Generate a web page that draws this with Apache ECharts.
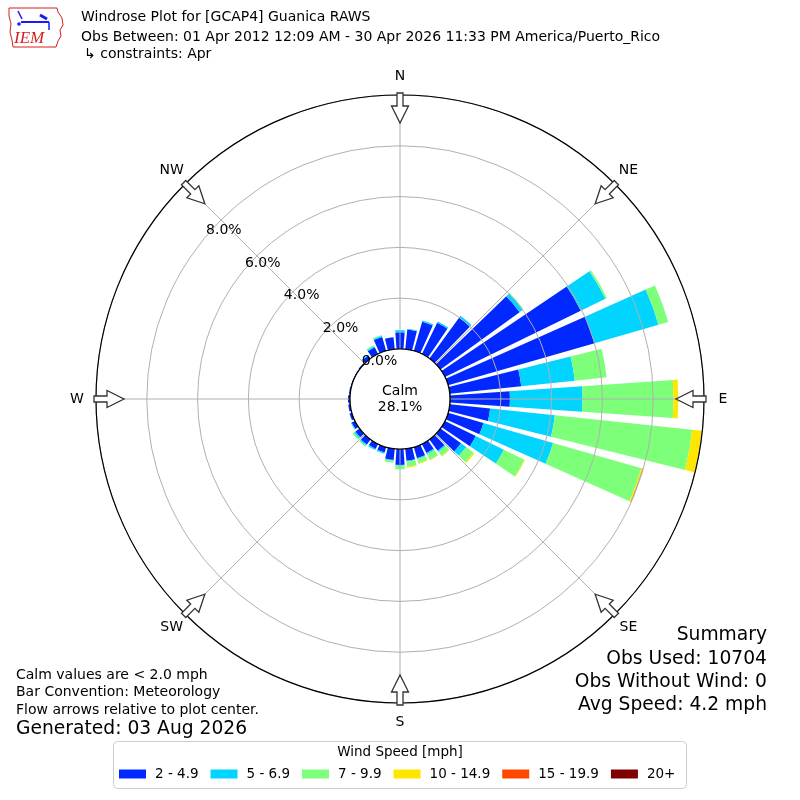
<!DOCTYPE html>
<html><head><meta charset="utf-8">
<script src="https://cdn.jsdelivr.net/npm/echarts@6/dist/echarts.min.js"></script>
<style>html,body{margin:0;padding:0;background:#fff}#c{width:800px;height:800px}</style>
</head><body><div id="c"></div>
<script>
// ---- data ----
const DIRECTIONS = ['0','10','20','30','40','50','60','70','80','90','100','110','120','130','140','150','160','170',
  '180','190','200','210','220','230','240','250','260','270','280','290','300','310','320','330','340','350'];
const SPEED_BINS = ['2 - 4.9','5 - 6.9','7 - 9.9','10 - 14.9','15 - 19.9','20+'];
// percent of observations per direction, per speed bin
const S_2_5   = [0.66,0.78,1.20,1.37,2.00,3.85,5.95,6.00,2.83,2.36,1.60,1.45,1.35,1.00,0.55,0.40,0.46,0.48,
                 0.63,0.45,0.22,0.22,0.25,0.20,0.15,0.10,0.08,0.08,0.05,0.03,0.03,0.05,0.15,0.30,0.57,0.48];
const S_5_7   = [0.08,0.03,0.05,0.06,0.08,0.17,1.08,2.62,2.12,2.86,2.56,2.85,1.23,0.25,0.06,0.05,0.03,0.03,
                 0.03,0.03,0.05,0.05,0.05,0.07,0.03,0,0,0,0,0,0,0,0.03,0.05,0.05,0];
const S_7_10  = [0,0,0,0,0,0.02,0.07,0.40,1.26,3.58,5.44,3.62,0.90,0.36,0.20,0.25,0.17,0.20,
                 0.14,0.08,0,0,0.05,0.07,0,0,0,0,0,0,0,0,0,0.04,0.03,0];
const S_10_15 = [0,0,0,0,0,0,0,0,0,0.19,0.38,0.05,0.03,0.05,0.02,0.02,0.03,0.04,
                 0,0,0,0,0,0,0,0,0,0,0,0,0,0,0,0,0,0];
const S_15_20 = [0,0,0,0,0,0,0,0,0,0,0,0.02,0,0,0,0,0,0,
                 0,0,0,0,0,0,0,0,0,0,0,0,0,0,0,0,0,0];
const S_20P   = [0,0,0,0,0,0,0,0,0,0,0,0,0,0,0,0,0,0,
                 0,0,0,0,0,0,0,0,0,0,0,0,0,0,0,0,0,0];
const SERIES_DATA = [S_2_5, S_5_7, S_7_10, S_10_15, S_15_20, S_20P];
const RING_TICKS = [0, 2, 4, 6, 8];
const COMPASS_NAMES = ['N','NE','E','SE','S','SW','W','NW'];
const CALM_PCT = '28.1%';

// ---- styles / layout ----
const COLORS = ['#0028ff','#00d4ff','#7dff7a','#ffe600','#ff4700','#800000'];
const FONT = 'DejaVu Sans';
const CX = 400, CY = 399, R0 = 50, R1 = 304, RMAX = 10;

function polarPx(val, deg) {
  const r = R0 + (R1 - R0) * val / RMAX;
  const a = deg * Math.PI / 180;
  return [CX + r * Math.sin(a), CY - r * Math.cos(a)];
}
function rawPx(r, deg, v) {
  const a = deg * Math.PI / 180;
  return [CX + r * Math.sin(a) + v * Math.cos(a), CY - r * Math.cos(a) + v * Math.sin(a)];
}

const chart = echarts.init(document.getElementById('c'), null, {renderer: 'canvas'});
const graphics = [];

// calm circle
graphics.push({type:'circle', shape:{cx:CX, cy:CY, r:R0}, style:{fill:'#fff', stroke:'#000', lineWidth:1.2}, z:10});
graphics.push({type:'text', x:CX, y:391, style:{text:'Calm', font:'14px "'+FONT+'"', fill:'#000', align:'center', verticalAlign:'middle'}, z:11});
graphics.push({type:'text', x:CX, y:407, style:{text:CALM_PCT, font:'14px "'+FONT+'"', fill:'#000', align:'center', verticalAlign:'middle'}, z:11});

// arrows + compass labels
COMPASS_NAMES.forEach((nm, i) => {
  const deg = i * 45;
  const pts = [[306,-3],[293,-3],[293,-8.5],[276,0],[293,8.5],[293,3],[306,3]].map(p => rawPx(p[0], deg, p[1]));
  graphics.push({type:'polygon', shape:{points:pts}, style:{fill:'#fff', stroke:'#333', lineWidth:1.3}, z:12});
  const lp = rawPx(323, deg, 0);
  graphics.push({type:'text', x:lp[0], y:lp[1], style:{text:nm, font:'14px "'+FONT+'"', fill:'#000', align:'center', verticalAlign:'middle'}, z:12});
});

// ring labels
RING_TICKS.forEach(v => {
  const p = polarPx(v, 310);
  graphics.push({type:'text', x:p[0], y:p[1]+1, style:{text:v.toFixed(1)+'%', font:'14px "'+FONT+'"', fill:'#000', align:'left', verticalAlign:'bottom'}, z:12});
});

// titles
function txt(x, y, s, size, align, extra) {
  graphics.push({type:'text', x:x, y:y, style:Object.assign({text:s, font:size+'px "'+FONT+'"', fill:'#000', align:align||'left', verticalAlign:'middle'}, extra||{}), z:12});
}
txt(81, 17, 'Windrose Plot for [GCAP4] Guanica RAWS', 14);
txt(81, 37, 'Obs Between: 01 Apr 2012 12:09 AM - 30 Apr 2026 11:33 PM America/Puerto_Rico', 14);
txt(84, 54, '\u21b3 constraints: Apr', 14);
txt(16, 675, 'Calm values are < 2.0 mph', 14);
txt(16, 692, 'Bar Convention: Meteorology', 14);
txt(16, 710, 'Flow arrows relative to plot center.', 14);
txt(16, 729, 'Generated: 03 Aug 2026', 18.7);
txt(767, 635, 'Summary', 18.7, 'right');
txt(767, 659, 'Obs Used: 10704', 18.7, 'right');
txt(767, 682, 'Obs Without Wind: 0', 18.7, 'right');
txt(767, 705, 'Avg Speed: 4.2 mph', 18.7, 'right');

// legend frame + title
graphics.push({type:'rect', shape:{x:113.5, y:741.5, width:573, height:47, r:4}, style:{fill:'#fff', stroke:'#cccccc', lineWidth:1}, z:0});
txt(400, 752, 'Wind Speed [mph]', 13.5, 'center');

// logo
graphics.push({type:'polyline', shape:{points:[[9,8],[57,8],[58,12],[62,18],[63,25],[60,30],[61,36],[58,41],[56,47],[13,47],[12,40],[10,32],[11,24],[9,16],[9,8]]}, style:{stroke:'#d42020', lineWidth:1, fill:null}, z:12});
graphics.push({type:'text', x:14, y:39, style:{text:'IEM', font:'italic 17px "Liberation Serif"', fill:'#d42020', align:'left', verticalAlign:'middle'}, z:12});
graphics.push({type:'line', shape:{x1:21, y1:22, x2:49, y2:22}, style:{stroke:'#1a1aff', lineWidth:2}, z:12});
graphics.push({type:'line', shape:{x1:18, y1:11, x2:22, y2:19}, style:{stroke:'#1a1aff', lineWidth:1.5}, z:12});
graphics.push({type:'line', shape:{x1:40, y1:15, x2:47, y2:19}, style:{stroke:'#1a1aff', lineWidth:3}, z:12});
graphics.push({type:'line', shape:{x1:49, y1:22, x2:49, y2:30}, style:{stroke:'#1a1aff', lineWidth:1.5}, z:12});
graphics.push({type:'circle', shape:{cx:19, cy:24, r:1.8}, style:{fill:'#1a1aff'}, z:12});

const option = {
  animation: false,
  backgroundColor: '#fff',
  polar: [
    {center:[CX, CY], radius:[R0, R1]},
    {center:[CX, CY], radius:[R0, R1]}
  ],
  angleAxis: [
    {polarIndex:0, type:'category', data:DIRECTIONS, startAngle:95, clockwise:true,
     axisLine:{show:false}, axisTick:{show:false}, axisLabel:{show:false}, splitLine:{show:false}},
    {polarIndex:1, type:'value', min:0, max:360, interval:45, startAngle:90, clockwise:true, z:3,
     axisLine:{show:true, lineStyle:{color:'#000', width:1.2}}, axisTick:{show:false}, axisLabel:{show:false},
     splitLine:{show:true, lineStyle:{color:'#b0b0b0', width:1}}}
  ],
  radiusAxis: [
    {polarIndex:0, type:'value', min:0, max:RMAX, interval:2, z:3,
     axisLine:{show:false}, axisTick:{show:false}, axisLabel:{show:false},
     splitLine:{show:true, lineStyle:{color:'#b0b0b0', width:1}}},
    {polarIndex:1, type:'value', min:0, max:RMAX, show:false}
  ],
  legend: {
    data: SPEED_BINS, left:119, top:767, padding:0, icon:'rect', itemWidth:27, itemHeight:9, itemGap:12,
    selectedMode:false,
    textStyle:{fontSize:13.5, fontFamily:FONT, color:'#000', padding:[0,0,0,4]}
  },
  series: SPEED_BINS.map((name, i) => ({
    type:'bar', name:name, data:SERIES_DATA[i], coordinateSystem:'polar', polarIndex:0,
    stack:'speed', barCategoryGap:'20%', silent:true, itemStyle:{color:COLORS[i]}
  })),
  graphic: graphics
};
chart.setOption(option);
</script>
</body></html>
